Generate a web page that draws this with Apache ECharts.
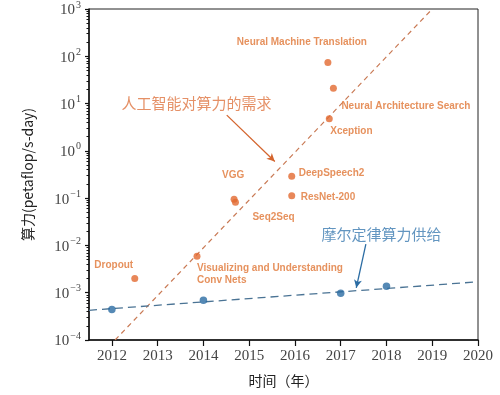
<!DOCTYPE html>
<html>
<head>
<meta charset="utf-8">
<script src="https://cdn.jsdelivr.net/npm/echarts@6/dist/echarts.min.js"></script>
<style>html,body{margin:0;padding:0;background:#fff;}#c{width:500px;height:395px;}</style>
</head>
<body>
<div id="c"></div>
<script>
// ---- data ----
var demandNames = ['Dropout', 'Visualizing and Understanding\nConv Nets', 'VGG', 'Seq2Seq', 'ResNet-200', 'DeepSpeech2', 'Xception', 'Neural Architecture Search', 'Neural Machine Translation'];
var demandYears = [2012.5, 2013.86, 2014.67, 2014.7, 2015.93, 2015.93, 2016.75, 2016.84, 2016.72];
var demandValues = [0.002, 0.0059, 0.095, 0.082, 0.113, 0.29, 4.8, 21, 74];
var supplyYears = [2012, 2014, 2017, 2018];
var supplyValues = [0.00044, 0.00069, 0.00097, 0.00137];
var demandTrendYears = [2012.07, 2019.0];
var demandTrendValues = [0.0001, 1000];
var supplyTrendYears = [2011.5, 2020];
var supplyTrendValues = [0.000425, 0.0017];
var xTickLabels = [2012, 2013, 2014, 2015, 2016, 2017, 2018, 2019, 2020];
var yTickValues = [1e-4, 1e-3, 1e-2, 1e-1, 1, 10, 100, 1000];

// label placement (styling only)
var labelStyle = {
  'Dropout': {align: 'center', offset: [-21, -13]},
  'Visualizing and Understanding\nConv Nets': {align: 'left', offset: [0, 18]},
  'VGG': {align: 'center', offset: [-1, -24]},
  'Seq2Seq': {align: 'left', offset: [17, 15]},
  'ResNet-200': {align: 'left', offset: [9, 2]},
  'DeepSpeech2': {align: 'left', offset: [7, -3]},
  'Xception': {align: 'left', offset: [1, 13]},
  'Neural Architecture Search': {align: 'left', offset: [8, 18]},
  'Neural Machine Translation': {align: 'center', offset: [-26, -20]}
};

var minorTicks = [];
for (var e = -4; e < 3; e++) {
  for (var m = 2; m <= 9; m++) minorTicks.push(m * Math.pow(10, e));
}

var orange = '#e2692f';
var blue = '#2b6ca3';

var demandData = demandNames.map(function (n, i) {
  var ls = labelStyle[n];
  return {
    value: [demandYears[i], demandValues[i]],
    name: n,
    label: {align: ls.align, offset: ls.offset}
  };
});

var chart = echarts.init(document.getElementById('c'), null, {renderer: 'canvas'});
chart.setOption({
  animation: false,
  grid: {left: 89, right: 22, top: 6, bottom: 55, show: true, borderColor: '#222', borderWidth: 1},
  xAxis: {
    type: 'value', min: 2011.5, max: 2020,
    name: '时间（年）', nameLocation: 'middle', nameGap: 34,
    nameTextStyle: {fontFamily: 'Noto Sans CJK SC', fontSize: 14, color: '#222'},
    axisLine: {lineStyle: {color: '#111', width: 1.5}},
    axisTick: {show: true, length: 6, customValues: xTickLabels, lineStyle: {color: '#111', width: 1.2}},
    axisLabel: {customValues: xTickLabels, fontFamily: 'Liberation Serif', fontSize: 15, color: '#444', margin: 9,
      formatter: function (v) { return String(Math.round(v)); }},
    splitLine: {show: false}
  },
  yAxis: [{
    type: 'log', logBase: 10, min: 1e-4, max: 1e3,
    name: '算力(petaflop/s-day)', nameLocation: 'middle', nameGap: 54,
    nameTextStyle: {fontFamily: 'Noto Sans CJK SC', fontSize: 14, color: '#222'},
    axisLine: {show: true, lineStyle: {color: '#111', width: 1.5}},
    axisTick: {show: true, length: 4, customValues: yTickValues, lineStyle: {color: '#111', width: 1.2}},
    axisLabel: {
      customValues: yTickValues, margin: 8, color: '#444',
      formatter: function (v) {
        var ex = Math.round(Math.log10(v));
        return '{b|10}{s|' + (ex < 0 ? '\u2212' + (-ex) : ex) + '}';
      },
      rich: {
        b: {fontFamily: 'Liberation Serif', fontSize: 15, color: '#444', verticalAlign: 'bottom', lineHeight: 18},
        s: {fontFamily: 'Liberation Serif', fontSize: 10, color: '#444', verticalAlign: 'top', lineHeight: 18, padding: [0, 0, 0, 1]}
      }
    },
    splitLine: {show: false}
  }, {
    type: 'log', logBase: 10, min: 1e-4, max: 1e3, position: 'left',
    axisLine: {show: false},
    axisTick: {show: true, length: 2.5, customValues: minorTicks, lineStyle: {color: '#111', width: 1}},
    axisLabel: {show: false},
    splitLine: {show: false}
  }],
  series: [{
    type: 'line', name: 'demandTrend', symbol: 'none', clip: true,
    data: demandTrendYears.map(function (x, i) { return [x, demandTrendValues[i]]; }),
    lineStyle: {color: '#c97a55', width: 1.2, type: [5, 4]}, z: 1
  }, {
    type: 'line', name: 'supplyTrend', symbol: 'none', clip: true,
    data: supplyTrendYears.map(function (x, i) { return [x, supplyTrendValues[i]]; }),
    lineStyle: {color: '#4a7394', width: 1.3, type: [8, 5]}, z: 1
  }, {
    type: 'scatter', name: 'demand', symbolSize: 7, data: demandData,
    itemStyle: {color: orange},
    label: {
      show: true, position: 'inside', verticalAlign: 'middle',
      fontFamily: 'Liberation Sans', fontWeight: 'bold', fontSize: 10, color: '#e07535', lineHeight: 12,
      formatter: function (p) { return p.name; }
    },
    z: 3,
    markLine: {
      silent: true, symbol: ['none', 'arrow'], symbolSize: [6, 8],
      label: {show: false},
      lineStyle: {color: '#d4652e', width: 1.3, type: 'solid'},
      data: [[{coord: [2014.51, 5.7]}, {coord: [2015.56, 0.594]}]]
    }
  }, {
    type: 'scatter', name: 'supply', symbolSize: 7.5,
    data: supplyYears.map(function (x, i) { return [x, supplyValues[i]]; }),
    itemStyle: {color: blue}, z: 3,
    markLine: {
      silent: true, symbol: ['none', 'arrow'], symbolSize: [6, 8],
      label: {show: false},
      lineStyle: {color: '#2b6ca3', width: 1.3, type: 'solid'},
      data: [[{coord: [2017.55, 0.0106]}, {coord: [2017.34, 0.00127]}]]
    }
  }, {
    type: 'scatter', name: 'notes', symbolSize: 0, silent: true,
    data: [
      {value: [2013.85, 10], name: '人工智能对算力的需求', label: {color: '#de7440'}},
      {value: [2017.89, 0.0175], name: '摩尔定律算力供给', label: {color: '#3b7bb0'}}
    ],
    label: {show: true, position: 'inside', fontFamily: 'Noto Sans CJK SC', fontSize: 15,
      formatter: function (p) { return p.name; }}
  }]
});
</script>
</body>
</html>
